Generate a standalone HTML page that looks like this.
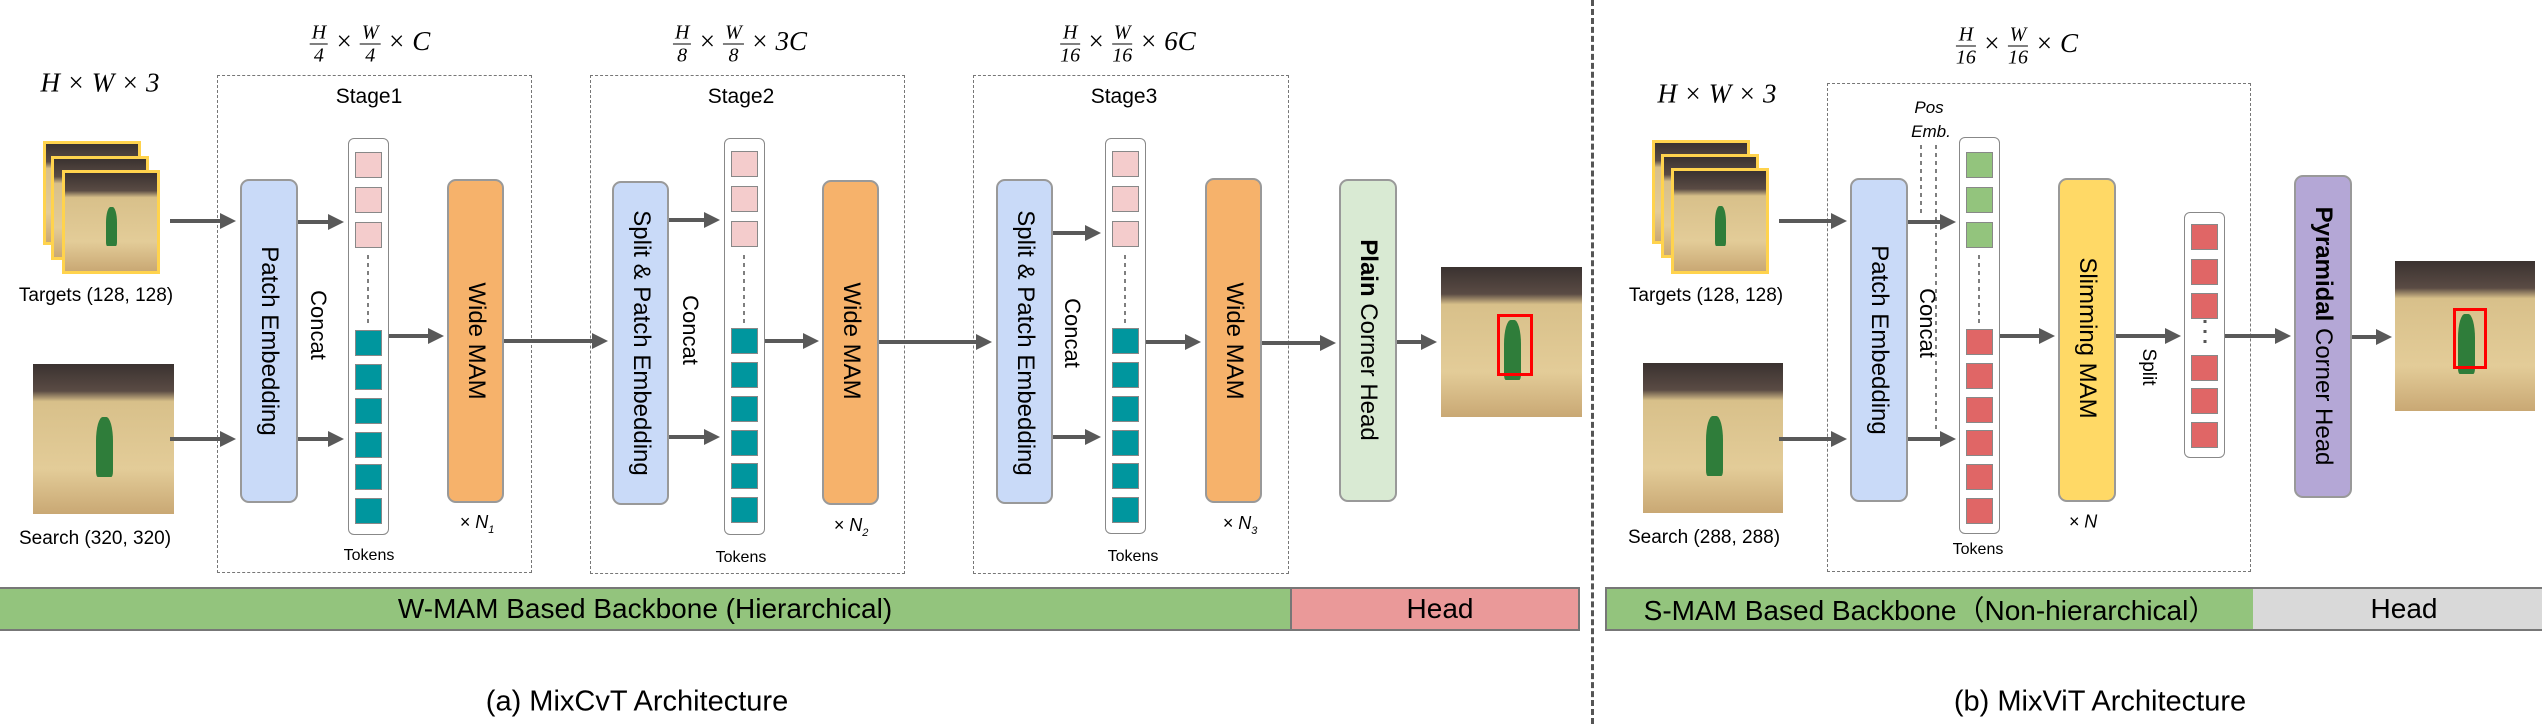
<!DOCTYPE html>
<html><head><meta charset="utf-8"><style>
body{margin:0;background:#fff;}
#c{position:relative;width:2542px;height:724px;overflow:hidden;font-family:"Liberation Sans",sans-serif;color:#000;}
.a{position:absolute;}
.dash{position:absolute;border:1.5px dashed #777;box-sizing:border-box;}
.blk{position:absolute;border:2px solid #999;border-radius:9px;box-sizing:border-box;}
.vt{position:absolute;white-space:nowrap;transform:translate(-50%,-50%) rotate(90deg);font-size:24px;}
.col{position:absolute;border:1.5px solid #888;border-radius:6px;background:#fff;box-sizing:border-box;}
.sq{position:absolute;width:27px;height:26px;border:1px solid #888;box-sizing:border-box;}
.pk{background:#f4cccc}.tl{background:#00969e}.gr{background:#93c47d}.rd{background:#e06666}
.lbl{position:absolute;white-space:nowrap;transform:translate(-50%,-50%);}
.math{font-family:"Liberation Serif",serif;font-style:italic;font-size:27px;}
.fr{display:inline-block;vertical-align:middle;text-align:center;font-size:20px;line-height:22px;}
.fr span{display:block;}
.fr span:first-child{border-bottom:1.5px solid #000;padding:0 2px;}
.img{position:absolute;overflow:hidden;background:linear-gradient(#3a3230 0%,#5a4b44 18%,#d8c08a 25%,#e3cc98 70%,#c9a874 100%);}
.img:after{content:"";position:absolute;left:45%;top:35%;width:12%;height:40%;background:#2f7d3a;border-radius:40% 40% 10% 10%;}
.tg{border:3px solid #ffd34d;}
</style></head><body><div id="c">

<!-- bars -->
<div class="a" style="left:0;top:587px;width:1290px;height:44px;background:#93c47d;border-top:2px solid #777;border-bottom:2px solid #777;box-sizing:border-box"></div>
<div class="a" style="left:1290px;top:587px;width:290px;height:44px;background:#ea9999;border:2px solid #777;box-sizing:border-box"></div>
<div class="lbl" style="left:645px;top:609px;font-size:28px">W-MAM Based Backbone (Hierarchical)</div>
<div class="lbl" style="left:1440px;top:609px;font-size:28px">Head</div>
<div class="a" style="left:1605px;top:587px;width:648px;height:44px;background:#93c47d;border:2px solid #777;border-right:none;box-sizing:border-box"></div>
<div class="a" style="left:2253px;top:587px;width:289px;height:44px;background:#d9d9d9;border-top:2px solid #777;border-bottom:2px solid #777;box-sizing:border-box"></div>
<div class="lbl" style="left:1930px;top:609px;font-size:28px">S-MAM Based Backbone（Non-hierarchical）</div>
<div class="lbl" style="left:2404px;top:609px;font-size:28px">Head</div>

<div class="lbl" style="left:637px;top:702px;font-size:29px">(a) MixCvT Architecture</div>
<div class="lbl" style="left:2100px;top:702px;font-size:29px">(b) MixViT Architecture</div>

<!-- divider -->
<div class="a" style="left:1591px;top:0;width:0;height:724px;border-left:3px dashed #555"></div>

<!-- stage boxes -->
<div class="dash" style="left:217px;top:75px;width:315px;height:498px"></div>
<div class="dash" style="left:590px;top:75px;width:315px;height:499px"></div>
<div class="dash" style="left:973px;top:75px;width:316px;height:499px"></div>
<div class="dash" style="left:1827px;top:83px;width:424px;height:489px"></div>

<div class="lbl" style="left:369px;top:97px;font-size:21px">Stage1</div>
<div class="lbl" style="left:741px;top:97px;font-size:21px">Stage2</div>
<div class="lbl" style="left:1124px;top:97px;font-size:21px">Stage3</div>

<!-- formulas -->
<div class="lbl math" style="left:370px;top:44px"><span class="fr"><span>H</span><span>4</span></span> × <span class="fr"><span>W</span><span>4</span></span> × C</div>
<div class="lbl math" style="left:740px;top:44px"><span class="fr"><span>H</span><span>8</span></span> × <span class="fr"><span>W</span><span>8</span></span> × 3C</div>
<div class="lbl math" style="left:1128px;top:44px"><span class="fr"><span>H</span><span>16</span></span> × <span class="fr"><span>W</span><span>16</span></span> × 6C</div>
<div class="lbl math" style="left:2017px;top:46px"><span class="fr"><span>H</span><span>16</span></span> × <span class="fr"><span>W</span><span>16</span></span> × C</div>
<div class="lbl math" style="left:100px;top:83px">H × W × 3</div>
<div class="lbl math" style="left:1717px;top:94px">H × W × 3</div>

<!-- images left -->
<div class="img tg" style="left:43px;top:141px;width:92px;height:98px"></div>
<div class="img tg" style="left:51px;top:156px;width:92px;height:98px"></div>
<div class="img tg" style="left:62px;top:170px;width:92px;height:98px"></div>
<div class="lbl" style="left:96px;top:296px;font-size:19px">Targets (128, 128)</div>
<div class="img" style="left:33px;top:364px;width:141px;height:150px"></div>
<div class="lbl" style="left:95px;top:539px;font-size:19px">Search (320, 320)</div>

<div class="img tg" style="left:1652px;top:140px;width:92px;height:98px"></div>
<div class="img tg" style="left:1661px;top:154px;width:92px;height:98px"></div>
<div class="img tg" style="left:1671px;top:168px;width:92px;height:100px"></div>
<div class="lbl" style="left:1706px;top:296px;font-size:19px">Targets (128, 128)</div>
<div class="img" style="left:1643px;top:363px;width:140px;height:150px"></div>
<div class="lbl" style="left:1704px;top:538px;font-size:19px">Search (288, 288)</div>

<!-- output images -->
<div class="img" style="left:1441px;top:267px;width:141px;height:150px"><div class="a" style="left:56px;top:47px;width:30px;height:56px;border:3px solid #f00;z-index:2"></div></div>
<div class="img" style="left:2395px;top:261px;width:140px;height:150px"><div class="a" style="left:58px;top:47px;width:28px;height:55px;border:3px solid #f00;z-index:2"></div></div>

<!-- blocks stage1 -->
<div class="blk" style="left:240px;top:179px;width:58px;height:324px;background:#c9daf8"></div>
<div class="vt" style="left:269px;top:341px">Patch Embedding</div>
<div class="blk" style="left:447px;top:179px;width:57px;height:324px;background:#f6b26b"></div>
<div class="vt" style="left:476px;top:341px">Wide MAM</div>
<div class="vt" style="left:318px;top:325px;font-size:22px">Concat</div>
<div class="col" style="left:348px;top:138px;width:41px;height:397px"></div>

<!-- stage2 -->
<div class="blk" style="left:612px;top:181px;width:57px;height:324px;background:#c9daf8"></div>
<div class="vt" style="left:641px;top:343px">Split &amp; Patch Embedding</div>
<div class="blk" style="left:822px;top:180px;width:57px;height:325px;background:#f6b26b"></div>
<div class="vt" style="left:851px;top:341px">Wide MAM</div>
<div class="vt" style="left:690px;top:330px;font-size:22px">Concat</div>
<div class="col" style="left:724px;top:138px;width:41px;height:397px"></div>

<!-- stage3 -->
<div class="blk" style="left:996px;top:179px;width:57px;height:325px;background:#c9daf8"></div>
<div class="vt" style="left:1025px;top:343px">Split &amp; Patch Embedding</div>
<div class="blk" style="left:1205px;top:178px;width:57px;height:325px;background:#f6b26b"></div>
<div class="vt" style="left:1234px;top:341px">Wide MAM</div>
<div class="vt" style="left:1072px;top:333px;font-size:22px">Concat</div>
<div class="col" style="left:1105px;top:138px;width:41px;height:396px"></div>

<!-- plain head -->
<div class="blk" style="left:1339px;top:179px;width:58px;height:323px;background:#d9ead3"></div>
<div class="vt" style="left:1368px;top:340px"><b>Plain</b> Corner Head</div>

<!-- right -->
<div class="blk" style="left:1850px;top:178px;width:58px;height:324px;background:#c9daf8"></div>
<div class="vt" style="left:1879px;top:340px">Patch Embedding</div>
<div class="vt" style="left:1927px;top:323px;font-size:22px">Concat</div>
<div class="col" style="left:1959px;top:137px;width:41px;height:397px"></div>
<div class="blk" style="left:2058px;top:178px;width:58px;height:324px;background:#ffd966"></div>
<div class="vt" style="left:2087px;top:338px">Slimming MAM</div>
<div class="vt" style="left:2148px;top:367px;font-size:19px">Split</div>
<div class="col" style="left:2184px;top:212px;width:41px;height:246px"></div>
<div class="blk" style="left:2294px;top:175px;width:58px;height:323px;background:#b4a7d6"></div>
<div class="vt" style="left:2323px;top:336px"><b>Pyramidal</b> Corner Head</div>
<div class="lbl" style="left:1929px;top:108px;font-size:17px;font-style:italic">Pos</div>
<div class="lbl" style="left:1931px;top:132px;font-size:17px;font-style:italic">Emb.</div>

<!-- tokens squares -->
<div class="sq pk" style="left:355px;top:152px"></div><div class="sq pk" style="left:355px;top:187px"></div><div class="sq pk" style="left:355px;top:222px"></div>
<div class="sq tl" style="left:355px;top:330px"></div><div class="sq tl" style="left:355px;top:364px"></div><div class="sq tl" style="left:355px;top:398px"></div><div class="sq tl" style="left:355px;top:432px"></div><div class="sq tl" style="left:355px;top:464px"></div><div class="sq tl" style="left:355px;top:498px"></div>
<div class="sq pk" style="left:731px;top:151px"></div><div class="sq pk" style="left:731px;top:186px"></div><div class="sq pk" style="left:731px;top:221px"></div>
<div class="sq tl" style="left:731px;top:328px"></div><div class="sq tl" style="left:731px;top:362px"></div><div class="sq tl" style="left:731px;top:396px"></div><div class="sq tl" style="left:731px;top:430px"></div><div class="sq tl" style="left:731px;top:463px"></div><div class="sq tl" style="left:731px;top:497px"></div>
<div class="sq pk" style="left:1112px;top:151px"></div><div class="sq pk" style="left:1112px;top:186px"></div><div class="sq pk" style="left:1112px;top:221px"></div>
<div class="sq tl" style="left:1112px;top:328px"></div><div class="sq tl" style="left:1112px;top:362px"></div><div class="sq tl" style="left:1112px;top:396px"></div><div class="sq tl" style="left:1112px;top:430px"></div><div class="sq tl" style="left:1112px;top:463px"></div><div class="sq tl" style="left:1112px;top:497px"></div>
<div class="sq gr" style="left:1966px;top:152px"></div><div class="sq gr" style="left:1966px;top:187px"></div><div class="sq gr" style="left:1966px;top:222px"></div>
<div class="sq rd" style="left:1966px;top:329px"></div><div class="sq rd" style="left:1966px;top:363px"></div><div class="sq rd" style="left:1966px;top:397px"></div><div class="sq rd" style="left:1966px;top:430px"></div><div class="sq rd" style="left:1966px;top:464px"></div><div class="sq rd" style="left:1966px;top:498px"></div>
<div class="sq rd" style="left:2191px;top:224px"></div><div class="sq rd" style="left:2191px;top:259px"></div><div class="sq rd" style="left:2191px;top:293px"></div>
<div class="sq rd" style="left:2191px;top:355px"></div><div class="sq rd" style="left:2191px;top:388px"></div><div class="sq rd" style="left:2191px;top:422px"></div>

<div class="lbl" style="left:369px;top:556px;font-size:16px">Tokens</div>
<div class="lbl" style="left:741px;top:558px;font-size:16px">Tokens</div>
<div class="lbl" style="left:1133px;top:557px;font-size:16px">Tokens</div>
<div class="lbl" style="left:1978px;top:550px;font-size:16px">Tokens</div>
<div class="lbl" style="left:477px;top:524px;font-size:18px;font-style:italic">× N<sub style="font-size:11px">1</sub></div>
<div class="lbl" style="left:851px;top:527px;font-size:18px;font-style:italic">× N<sub style="font-size:11px">2</sub></div>
<div class="lbl" style="left:1240px;top:525px;font-size:18px;font-style:italic">× N<sub style="font-size:11px">3</sub></div>
<div class="lbl" style="left:2083px;top:522px;font-size:18px;font-style:italic">× N</div>

<svg class="a" style="left:0;top:0" width="2542" height="724">
<defs><marker id="ar" markerWidth="4" markerHeight="4" refX="3" refY="2" orient="auto"><path d="M0,0 L4,2 L0,4z" fill="#595959"/></marker></defs>
<g stroke="#595959" stroke-width="4" marker-end="url(#ar)" fill="none">
<line x1="170" y1="221" x2="232" y2="221"/><line x1="170" y1="439" x2="232" y2="439"/>
<line x1="298" y1="222" x2="340" y2="222"/><line x1="298" y1="439" x2="340" y2="439"/>
<line x1="389" y1="336" x2="440" y2="336"/>
<line x1="504" y1="341" x2="604" y2="341"/>
<line x1="669" y1="220" x2="716" y2="220"/><line x1="669" y1="437" x2="716" y2="437"/>
<line x1="765" y1="341" x2="815" y2="341"/>
<line x1="879" y1="342" x2="988" y2="342"/>
<line x1="1053" y1="233" x2="1097" y2="233"/><line x1="1053" y1="437" x2="1097" y2="437"/>
<line x1="1146" y1="342" x2="1197" y2="342"/>
<line x1="1262" y1="343" x2="1332" y2="343"/>
<line x1="1397" y1="342" x2="1433" y2="342"/>
<line x1="1779" y1="221" x2="1843" y2="221"/><line x1="1779" y1="439" x2="1843" y2="439"/>
<line x1="1908" y1="222" x2="1952" y2="222"/><line x1="1908" y1="439" x2="1952" y2="439"/>
<line x1="2000" y1="336" x2="2051" y2="336"/>
<line x1="2116" y1="336" x2="2177" y2="336"/>
<line x1="2225" y1="336" x2="2287" y2="336"/>
<line x1="2352" y1="337" x2="2388" y2="337"/>
</g>
<g stroke="#555" stroke-width="1.5" stroke-dasharray="4,4" fill="none">
<line x1="368" y1="255" x2="368" y2="325"/><line x1="744" y1="255" x2="744" y2="323"/><line x1="1125" y1="255" x2="1125" y2="323"/><line x1="1979" y1="255" x2="1979" y2="324"/>
<line x1="1921" y1="145" x2="1921" y2="215"/><line x1="1936" y1="145" x2="1936" y2="432"/>
</g>
<g stroke="#555" stroke-width="3" stroke-dasharray="3,7"><line x1="2205" y1="320" x2="2205" y2="348"/></g>
</svg>
</div></body></html>
